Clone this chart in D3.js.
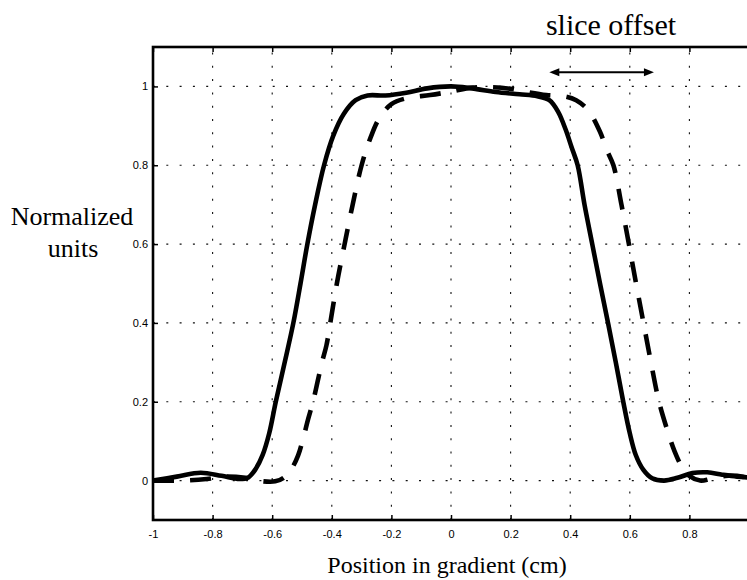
<!DOCTYPE html>
<html>
<head>
<meta charset="utf-8">
<script src="https://cdn.jsdelivr.net/npm/d3@7"></script>
<style>
  html, body { margin: 0; padding: 0; background: #fff; }
  svg { display: block; }
</style>
</head>
<body>
<svg id="chart" width="747" height="580"></svg>
<script>
// Slice profile along the gradient: reference slice (solid) and offset slice (dashed)
const solidX = [-1.0, -0.92, -0.84, -0.77, -0.71, -0.68, -0.655, -0.632, -0.61, -0.588, -0.558, -0.529, -0.505,
  -0.482, -0.456, -0.426, -0.395, -0.36, -0.32, -0.28, -0.22, -0.15, -0.08, 0.0, 0.07, 0.15, 0.23,
  0.29, 0.33, 0.36, 0.385, 0.405, 0.425, 0.448, 0.474, 0.5, 0.527, 0.553, 0.578, 0.6, 0.62, 0.645, 0.675,
  0.715, 0.76, 0.81, 0.86, 0.91, 0.96, 1.0];
const solidY = [0.0, 0.01, 0.02, 0.012, 0.004, 0.008, 0.03, 0.065, 0.12, 0.2, 0.3, 0.4, 0.5,
  0.6, 0.7, 0.8, 0.875, 0.93, 0.965, 0.977, 0.977, 0.984, 0.995, 1.0, 0.995, 0.986, 0.98,
  0.975, 0.965, 0.935, 0.89, 0.845, 0.8, 0.7, 0.6, 0.5, 0.4, 0.3, 0.2, 0.12, 0.065, 0.028, 0.006,
  0.0, 0.007, 0.019, 0.021, 0.015, 0.01, 0.008];

const dashedX = [-1.0, -0.9, -0.82, -0.76, -0.69, -0.63, -0.59, -0.56, -0.535, -0.513, -0.495, -0.479, -0.463,
  -0.448, -0.433, -0.418, -0.405, -0.383, -0.357, -0.33, -0.3, -0.27, -0.24, -0.2, -0.15, -0.07, 0.0,
  0.07, 0.14, 0.2, 0.26, 0.32, 0.38, 0.42, 0.46, 0.5, 0.522, 0.545, 0.572, 0.597, 0.621, 0.646,
  0.671, 0.698, 0.725, 0.75, 0.775, 0.8, 0.836, 0.87, 0.92, 0.96, 1.0];
const dashedY = [0.0, 0.0, 0.004, 0.01, 0.007, -0.002, -0.002, 0.008, 0.03, 0.064, 0.11, 0.157, 0.2,
  0.25, 0.3, 0.343, 0.4, 0.5, 0.6, 0.7, 0.8, 0.87, 0.92, 0.955, 0.97, 0.978, 0.987,
  0.997, 0.998, 0.994, 0.985, 0.978, 0.975, 0.965, 0.94, 0.885, 0.84, 0.8, 0.7, 0.6, 0.5, 0.4,
  0.3, 0.2, 0.13, 0.075, 0.035, 0.012, 0.0, 0.004, 0.012, 0.012, 0.006];

const xTicks = [-1, -0.8, -0.6, -0.4, -0.2, 0, 0.2, 0.4, 0.6, 0.8, 1];
const yTicks = [0, 0.2, 0.4, 0.6, 0.8, 1];
// the label for x = 1 falls past the right edge of the page
const xTickLabels = ["-1", "-0.8", "-0.6", "-0.4", "-0.2", "0", "0.2", "0.4", "0.6", "0.8", ""];
const yTickLabels = ["0", "0.2", "0.4", "0.6", "0.8", "1"];

// Double-headed arrow marking the slice offset (start, end, height in data units)
const offsetArrowX = [0.33, 0.681];
const offsetArrowY = 1.036;

const svg = d3.select("#chart");
const x = d3.scaleLinear().domain([-1, 1]).range([153, 749]);
const y = d3.scaleLinear().domain([-0.1, 1.1]).range([520, 47]);

const serif = "'Liberation Serif', 'Times New Roman', Times, serif";
const sans = "'Liberation Sans', Arial, Helvetica, sans-serif";

// Dotted grid
const grid = svg.append("g").attr("stroke", "#111").attr("stroke-width", 1.1)
  .attr("stroke-dasharray", "2,11.3").attr("fill", "none");
grid.selectAll("line.v").data(xTicks.filter(t => t > -1 && t < 1)).join("line")
  .attr("class", "v")
  .attr("x1", d => x(d)).attr("x2", d => x(d))
  .attr("y1", y(-0.1)).attr("y2", y(1.1));
grid.selectAll("line.h").data(yTicks).join("line")
  .attr("class", "h")
  .attr("x1", x(-1)).attr("x2", x(1))
  .attr("y1", d => y(d)).attr("y2", d => y(d));

// Axes with inward ticks
const bottomAxis = d3.axisBottom(x).tickValues(xTicks)
  .tickFormat((d, i) => xTickLabels[i]).tickSizeInner(-5).tickSizeOuter(0).tickPadding(10);
const gx = svg.append("g").attr("transform", `translate(0,${y(-0.1)})`).call(bottomAxis);
gx.select(".domain").remove();
gx.selectAll(".tick line").attr("stroke", "#000").attr("stroke-width", 1.5);
gx.selectAll("text").attr("font-family", sans).attr("font-size", 11).attr("fill", "#000");

const topAxis = d3.axisTop(x).tickValues(xTicks).tickFormat("").tickSizeInner(-5).tickSizeOuter(0);
const gt = svg.append("g").attr("transform", `translate(0,${y(1.1)})`).call(topAxis);
gt.select(".domain").remove();
gt.selectAll(".tick line").attr("stroke", "#000").attr("stroke-width", 1.5);

const leftAxis = d3.axisLeft(y).tickValues(yTicks)
  .tickFormat((d, i) => yTickLabels[i]).tickSizeInner(-5).tickSizeOuter(0).tickPadding(5);
const gy = svg.append("g").attr("transform", `translate(${x(-1)},0)`).call(leftAxis);
gy.select(".domain").remove();
gy.selectAll(".tick line").attr("stroke", "#000").attr("stroke-width", 1.5);
gy.selectAll("text").attr("font-family", sans).attr("font-size", 11).attr("fill", "#000");

// Axes frame
svg.append("rect")
  .attr("x", x(-1)).attr("y", y(1.1))
  .attr("width", x(1) - x(-1)).attr("height", y(-0.1) - y(1.1))
  .attr("fill", "none").attr("stroke", "#000").attr("stroke-width", 2.6);

// Profiles
const line = d3.line().x(d => x(d[0])).y(d => y(d[1])).curve(d3.curveCatmullRom.alpha(0.5));
const solidData = solidX.map((v, i) => [v, solidY[i]]);
const dashedData = dashedX.map((v, i) => [v, dashedY[i]]);

svg.append("path").datum(dashedData).attr("d", line)
  .attr("fill", "none").attr("stroke", "#000").attr("stroke-width", 4.6)
  .attr("stroke-dasharray", "21,16");
svg.append("path").datum(solidData).attr("d", line)
  .attr("fill", "none").attr("stroke", "#000").attr("stroke-width", 4.6)
  .attr("stroke-linejoin", "round");

// Slice offset arrow
const ax0 = x(offsetArrowX[0]), ax1 = x(offsetArrowX[1]), ay = y(offsetArrowY);
const headLen = 10, headHalf = 4;
svg.append("line").attr("x1", ax0 + headLen - 1).attr("x2", ax1 - headLen + 1)
  .attr("y1", ay).attr("y2", ay).attr("stroke", "#000").attr("stroke-width", 2);
svg.append("path")
  .attr("d", `M${ax0},${ay} L${ax0 + headLen},${ay - headHalf} L${ax0 + headLen},${ay + headHalf} Z`)
  .attr("fill", "#000");
svg.append("path")
  .attr("d", `M${ax1},${ay} L${ax1 - headLen},${ay - headHalf} L${ax1 - headLen},${ay + headHalf} Z`)
  .attr("fill", "#000");

// Text labels
svg.append("text").attr("x", 611).attr("y", 35).attr("text-anchor", "middle")
  .attr("font-family", serif).attr("font-size", 30).attr("fill", "#000").text("slice offset");
svg.append("text").attr("x", 72).attr("y", 225).attr("text-anchor", "middle")
  .attr("font-family", serif).attr("font-size", 26).attr("fill", "#000").text("Normalized");
svg.append("text").attr("x", 73).attr("y", 257).attr("text-anchor", "middle")
  .attr("font-family", serif).attr("font-size", 26).attr("fill", "#000").text("units");
svg.append("text").attr("x", 447).attr("y", 573).attr("text-anchor", "middle")
  .attr("font-family", serif).attr("font-size", 24).attr("fill", "#000").text("Position in gradient (cm)");
</script>
</body>
</html>
